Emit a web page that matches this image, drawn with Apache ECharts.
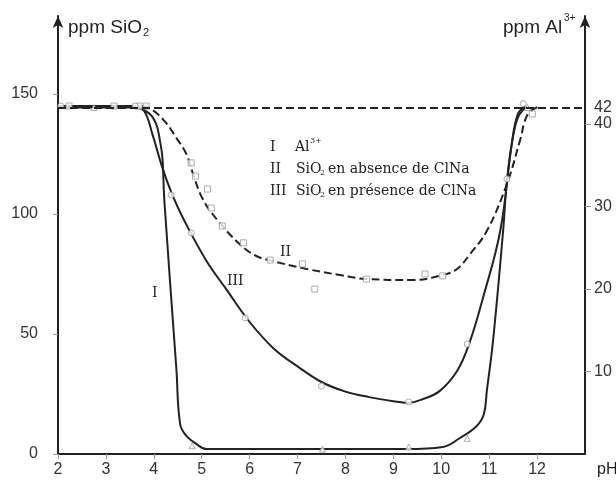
<!DOCTYPE html>
<html>
<head>
<meta charset="utf-8">
<script src="https://cdn.jsdelivr.net/npm/echarts@6/dist/echarts.min.js"></script>
<style>html,body{margin:0;padding:0;background:#fff}#c{width:616px;height:483px}</style>
</head>
<body>
<div id="c"></div>
<script>
// ---- Data ----
// Curve I : Al3+ (ppm, right axis)
const pH_I  = [2, 3.0, 3.6, 3.90, 4.05, 4.13, 4.18, 4.22, 4.47, 4.55, 4.68, 4.89, 5.10, 7.0, 9.28, 10.03, 10.39, 10.74, 10.89, 10.95, 11.08, 11.29, 11.37, 11.48, 11.60, 11.75];
const Al_I  = [42, 42, 42, 41.3, 40.0, 37.9, 35.9, 30.7, 10.4, 3.6, 2.2, 1.2, 0.6, 0.6, 0.6, 0.85, 1.94, 3.4, 4.85, 7.6, 13.7, 27.0, 33.1, 37.9, 40.8, 42];
// Curve II : SiO2 without NaCl (ppm, left axis)
const pH_II   = [2, 3.7, 3.90, 4.22, 4.47, 4.68, 4.80, 5.01, 5.31, 5.79, 6.14, 6.48, 7.19, 7.88, 8.44, 9.41, 10.03, 10.33, 10.60, 10.95, 11.37, 11.64, 11.81, 12.06];
const SiO2_II = [145, 145, 144.2, 138.8, 131.7, 125, 117.9, 106.7, 97.9, 87.5, 82.5, 80.4, 77.1, 74.6, 72.9, 72.5, 74.6, 77.1, 83.3, 92.9, 112.5, 130.4, 141.7, 145];
// Curve III : SiO2 with NaCl (ppm, left axis)
const pH_III   = [2, 3.6, 3.80, 3.97, 4.18, 4.38, 4.64, 5.10, 5.5, 6.0, 6.5, 7.0, 7.5, 8.0, 8.5, 9.0, 9.3, 9.62, 9.97, 10.33, 10.58, 10.87, 11.23, 11.48, 11.60, 11.75];
const SiO2_III = [145, 145, 142.9, 133.3, 119.2, 108.3, 97.1, 80.4, 69, 55, 44, 36.5, 30, 26, 23.7, 22, 21.3, 22.9, 26.3, 34.6, 45.8, 65, 92.9, 130.4, 141.7, 145];
// Measured points
const triPH  = [2.75, 4.80, 7.52, 9.32, 10.54, 11.80];
const triAl  = [42, 1.0, 0.6, 0.85, 1.9, 42];
const sqPH   = [2.23, 3.17, 3.69, 3.84, 4.78, 4.87, 5.12, 5.20, 5.43, 5.87, 6.43, 7.10, 7.36, 8.44, 9.66, 10.03, 11.90];
const sqSiO2 = [145, 145, 145, 145, 121.3, 115.8, 110.4, 102.5, 95, 88, 80.8, 79.2, 68.7, 72.9, 75, 74.2, 141.7];
const ciPH   = [2.06, 3.61, 4.36, 4.78, 5.91, 7.50, 9.32, 10.54, 11.37, 11.71];
const ciSiO2 = [145, 145, 107.9, 92.1, 56.7, 28.3, 21.7, 45.8, 114.6, 146];
// Axis ticks
const xTicks = [2, 3, 4, 5, 6, 7, 8, 9, 10, 11, 12];
const leftTicks = [0, 50, 100, 150];
const rightTickMarks = [10, 20, 30, 40];
const rightTickLabels = [10, 20, 30, 40, 42];
const alInitial = 42;

const zip = (a, b) => a.map((v, i) => [v, b[i]]);
const INK = '#222';
const sans = 'Liberation Sans';
const serif = 'DejaVu Serif';

function T(x, y, text, size, family, extra) {
  return Object.assign({
    type: 'text', x: x, y: y, silent: true,
    style: { text: text, fontSize: size, fontFamily: family, fill: INK, align: 'left', verticalAlign: 'middle' }
  }, extra || {});
}

const chart = echarts.init(document.getElementById('c'), null, { renderer: 'canvas' });
chart.setOption({
  animation: false,
  backgroundColor: '#fff',
  grid: { left: 58, right: 31, top: 16, bottom: 29, containLabel: false },
  xAxis: {
    type: 'value', min: 2, max: 13, interval: 1,
    axisLine: { lineStyle: { color: INK, width: 2 } },
    axisTick: { show: true, length: 5, lineStyle: { color: '#999' }, customValues: xTicks },
    axisLabel: { customValues: xTicks, color: '#333', fontSize: 16, fontFamily: sans, margin: 8 },
    splitLine: { show: false }
  },
  yAxis: [
    {
      type: 'value', min: 0, max: 182.5, position: 'left',
      axisLine: { show: true, symbol: ['none', 'arrow'], symbolSize: [8, 12], lineStyle: { color: INK, width: 2 } },
      axisTick: { show: true, length: 5, lineStyle: { color: '#999' }, customValues: leftTicks },
      axisLabel: { customValues: leftTicks, color: '#333', fontSize: 16, fontFamily: sans, margin: 20 },
      splitLine: { show: false }
    },
    {
      type: 'value', min: 0, max: 53.1, position: 'right',
      axisLine: { show: true, symbol: ['none', 'arrow'], symbolSize: [8, 12], lineStyle: { color: INK, width: 2 } },
      axisTick: { show: true, length: 6, lineStyle: { color: '#999' }, customValues: rightTickMarks },
      axisLabel: { customValues: rightTickLabels, color: '#333', fontSize: 16, fontFamily: sans, margin: 9 },
      splitLine: { show: false }
    }
  ],
  series: [
    {
      name: 'II', type: 'line', yAxisIndex: 0, data: zip(pH_II, SiO2_II),
      smooth: 0.4, showSymbol: false, symbol: 'none',
      lineStyle: { color: INK, width: 2, type: [8, 4] }, z: 2
    },
    {
      name: 'III', type: 'line', yAxisIndex: 0, data: zip(pH_III, SiO2_III),
      smooth: 0.4, showSymbol: false, symbol: 'none',
      lineStyle: { color: INK, width: 2 }, z: 2
    },
    {
      name: 'I', type: 'line', yAxisIndex: 1, data: zip(pH_I, Al_I),
      smooth: 0.4, showSymbol: false, symbol: 'none',
      lineStyle: { color: INK, width: 2 }, z: 2,
      markLine: {
        silent: true, symbol: 'none', label: { show: false },
        lineStyle: { color: INK, width: 2, type: [8, 4] },
        data: [{ yAxis: alInitial }]
      }
    },
    {
      name: 'sq', type: 'scatter', yAxisIndex: 0, data: zip(sqPH, sqSiO2),
      symbol: 'rect', symbolSize: 6, itemStyle: { color: '#fff', borderColor: '#999', borderWidth: 1 }, z: 3
    },
    {
      name: 'ci', type: 'scatter', yAxisIndex: 0, data: zip(ciPH, ciSiO2),
      symbol: 'circle', symbolSize: 6, itemStyle: { color: '#fff', borderColor: '#999', borderWidth: 1 }, z: 3
    },
    {
      name: 'tri', type: 'scatter', yAxisIndex: 1, data: zip(triPH, triAl),
      symbol: 'triangle', symbolSize: 6, itemStyle: { color: '#fff', borderColor: '#999', borderWidth: 1 }, z: 3
    }
  ],
  graphic: [
    T(68, 28, 'ppm SiO', 19, sans),
    T(143, 33, '2', 11, sans),
    T(503, 28, 'ppm Al', 19, sans),
    T(564, 18, '3+', 10, sans),
    T(597, 470, 'pH', 16, sans),
    // legend
    T(270, 147.5, 'I', 14, serif),
    T(295, 147.5, 'Al', 14, serif),
    T(310, 141, '3+', 8, serif),
    T(270, 169, 'II', 14, serif),
    T(296, 169, 'SiO', 14, serif),
    T(320, 173, '2', 8, serif),
    T(328, 169, 'en absence de ClNa', 14, serif),
    T(270, 191, 'III', 14, serif),
    T(296, 191, 'SiO', 14, serif),
    T(320, 195, '2', 8, serif),
    T(328, 191, 'en présence de ClNa', 14, serif),
    // curve labels
    T(280, 252, 'II', 14, serif),
    T(227, 281, 'III', 14, serif),
    T(152, 293, 'I', 14, serif)
  ]
});
</script>
</body>
</html>
